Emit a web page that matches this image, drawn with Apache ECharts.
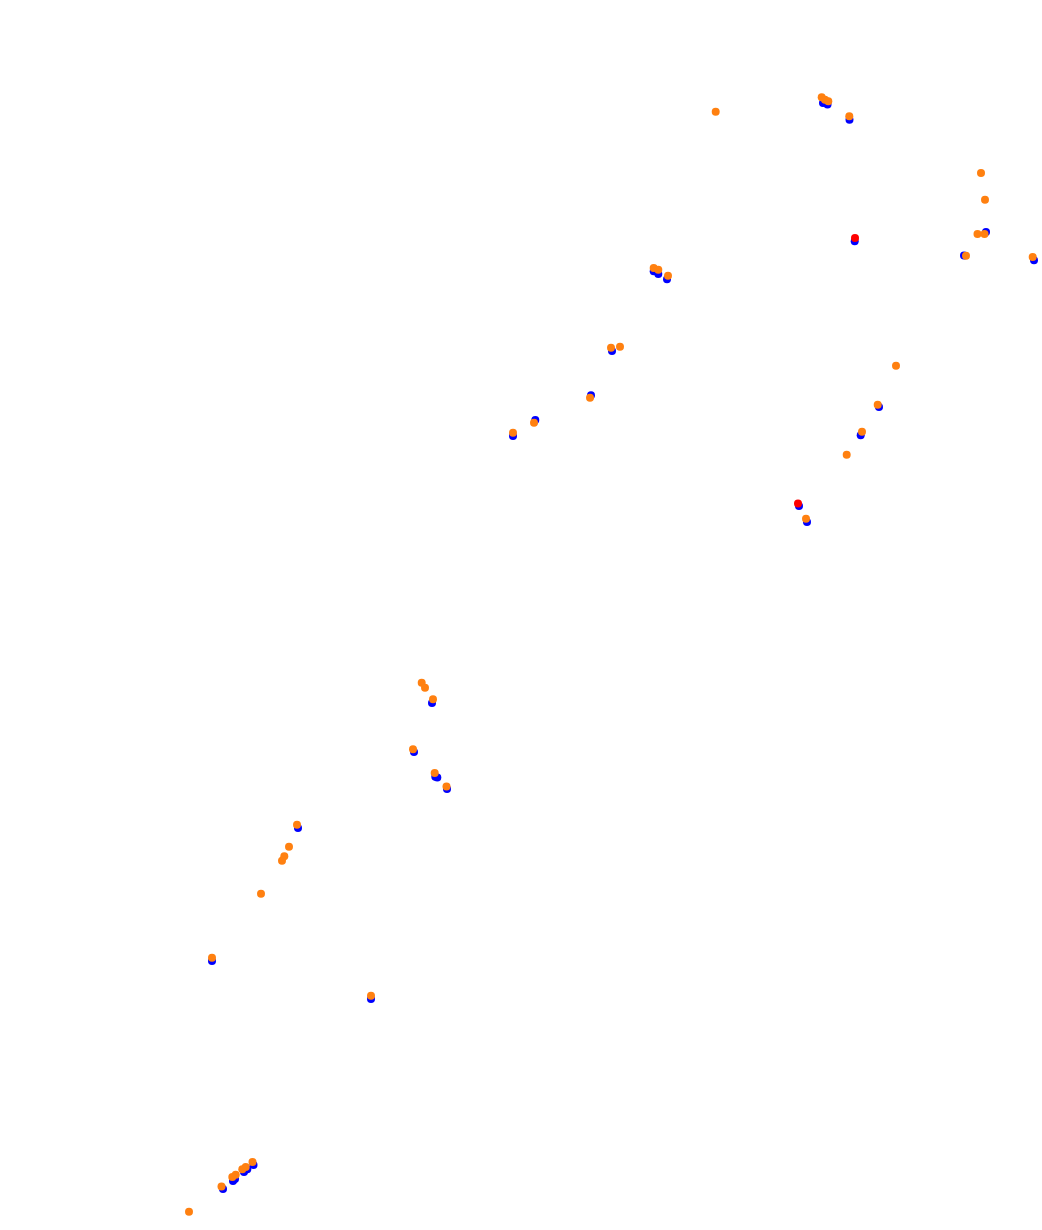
<!DOCTYPE html>
<html>
<head>
<meta charset="utf-8">
<script src="https://cdn.jsdelivr.net/npm/echarts@6/dist/echarts.min.js"></script>
<style>html,body{margin:0;padding:0;background:#fff;}#c{width:1042px;height:1230px;}</style>
</head>
<body>
<div id="c"></div>
<script>
// Blue series points [x, y] (y measured downward)
const bluePoints = [
  [823,103],[827.5,104.5],[849.5,119.7],[854.7,241.3],[986,232],[964,255.5],[1034,260.3],
  [653.7,271.3],[658.3,274],[667,279.3],[612,351],[591,395.3],[535.3,420],[513,436],
  [879,407],[860.7,435.3],[799,506],[807,522],
  [432,703],[414,752],[435.3,776.7],[437.3,777.5],[447,789],[298,828],[212,961],[371,999],
  [223,1189],[233,1181],[235,1179],[244,1172],[247.3,1169.3],[253.5,1165]
];
// Red series points
const redPoints = [
  [855,238],[798,503.5]
];
// Orange series points
const orangePoints = [
  [715.7,111.7],[821.7,97.3],[825,99.7],[828.3,101.3],[849.3,116.3],
  [981,173],[985,199.7],[977.5,234],[984.5,234],[966,255.7],[1032.7,257],
  [653.7,268],[658.3,269.7],[668,275.7],[611,347.7],[620,346.7],[590,397.7],[534,422.7],[513,432.7],
  [896,365.7],[877.7,404.7],[862,431.7],[846.7,454.7],[806,518.7],
  [421.7,682.7],[425,687.7],[433,699.3],[413,749.3],[434.7,773],[446.5,786.5],
  [297,824.7],[289,846.7],[284.3,856.3],[282,860.7],[261,893.7],[212,957.7],[371,995.7],
  [189,1211.7],[221.5,1186.5],[232.3,1177],[235.7,1174.7],[242.3,1169.3],[245.7,1167],[252.5,1162]
];

const chart = echarts.init(document.getElementById('c'), null, {renderer: 'canvas'});
chart.setOption({
  animation: false,
  backgroundColor: '#ffffff',
  grid: {left: 0, right: 0, top: 0, bottom: 0},
  xAxis: {type: 'value', min: 0, max: 1042, show: false},
  yAxis: {type: 'value', min: 0, max: 1230, inverse: true, show: false},
  series: [
    {type: 'scatter', data: bluePoints, symbolSize: 8, itemStyle: {color: '#0000ff', opacity: 1}},
    {type: 'scatter', data: redPoints, symbolSize: 8, itemStyle: {color: '#ff0000', opacity: 1}},
    {type: 'scatter', data: orangePoints, symbolSize: 8, itemStyle: {color: '#ff8010', opacity: 1}}
  ]
});
</script>
</body>
</html>
